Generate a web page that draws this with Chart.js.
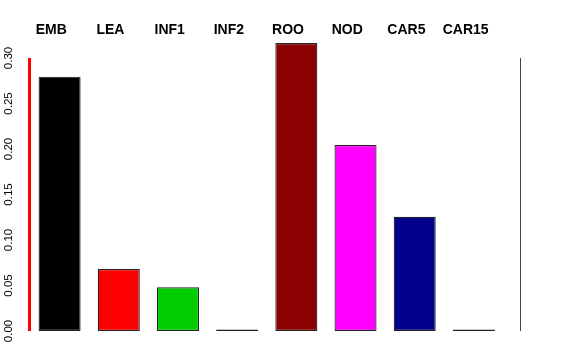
<!DOCTYPE html>
<html>
<head>
<meta charset="utf-8">
<script src="https://cdn.jsdelivr.net/npm/chart.js@4/dist/chart.umd.min.js"></script>
<style>
    html, body { margin: 0; padding: 0; background: #fff; }
</style>
</head>
<body>
<canvas id="barChart" width="576" height="360"></canvas>
<script>
// Bar data
const categories = ['EMB', 'LEA', 'INF1', 'INF2', 'ROO', 'NOD', 'CAR5', 'CAR15'];
const values = [0.2795, 0.068, 0.048, 0, 0.3165, 0.2044, 0.1256, 0];
const barColors = ['#000000', '#FF0000', '#00CD00', '#444444', '#8B0000', '#FF00FF', '#00008B', '#444444'];
const yTickValues = [0, 0.05, 0.10, 0.15, 0.20, 0.25, 0.30];

// R-style axis: rotated y tick labels, axis line with ticks, category names above the bars
const labelPlugin = {
    id: 'rLabels',
    afterDraw(chart) {
        const ctx = chart.ctx;
        const yScale = chart.scales.y;
        const xScale = chart.scales.x;
        const y0 = yScale.getPixelForValue(0);
        const yTop = yScale.getPixelForValue(0.3);

        // axis line, same way as the red test that showed up
        ctx.save();
        ctx.strokeStyle = 'red';
        ctx.lineWidth = 3;
        ctx.beginPath();
        ctx.moveTo(29.5, y0);
        ctx.lineTo(29.5, yTop);
        ctx.stroke();
        ctx.restore();

        // grey test lines elsewhere
        ctx.save();
        ctx.strokeStyle = '#444';
        ctx.lineWidth = 1;
        ctx.beginPath();
        ctx.moveTo(520.5, y0);
        ctx.lineTo(520.5, yTop);
        ctx.stroke();
        ctx.restore();

        ctx.save();
        ctx.fillStyle = '#000';
        ctx.font = '11.5px "Liberation Sans", Arial, sans-serif';
        ctx.textAlign = 'center';
        ctx.textBaseline = 'middle';
        yTickValues.forEach(v => {
            const y = yScale.getPixelForValue(v);
            ctx.save();
            ctx.translate(8.5, y);
            ctx.rotate(-Math.PI / 2);
            ctx.fillText(v.toFixed(2), 0, 0);
            ctx.restore();
        });

        ctx.font = 'bold 14px "Liberation Sans", Arial, sans-serif';
        ctx.textBaseline = 'alphabetic';
        categories.forEach((name, i) => {
            const x = xScale.getPixelForValue(i) - 8.3;
            ctx.fillText(name, x, 34);
        });
        ctx.restore();
    }
};

const chart = new Chart(document.getElementById('barChart'), {
    type: 'bar',
    data: {
        labels: categories,
        datasets: [{
            data: values,
            backgroundColor: barColors,
            borderColor: '#222222',
            borderWidth: 1.2,
            borderSkipped: false,
            minBarLength: 1.5,
            categoryPercentage: 1,
            barPercentage: 0.71,
            clip: false
        }]
    },
    options: {
        responsive: false,
        animation: false,
        layout: {
            padding: { top: 58, bottom: 29, left: 0, right: 72.5 }
        },
        plugins: {
            legend: { display: false },
            tooltip: { enabled: false }
        },
        scales: {
            x: {
                display: false
            },
            y: {
                min: 0,
                max: 0.3,
                ticks: { display: false, stepSize: 0.05 },
                grid: { display: false },
                border: { display: false },
                afterFit(scale) {
                    scale.width = 30;
                }
            }
        }
    },
    plugins: [labelPlugin]
});
</script>
</body>
</html>
